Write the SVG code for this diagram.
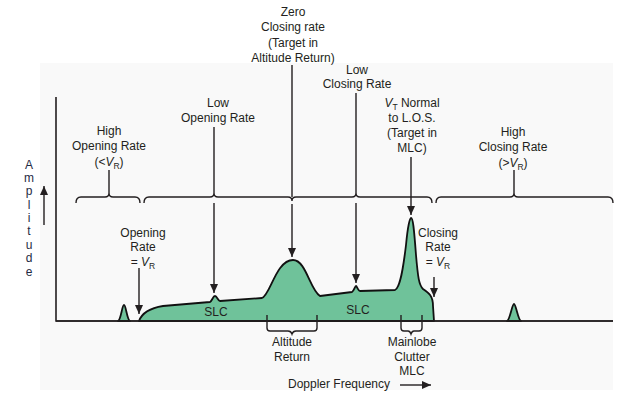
<svg xmlns="http://www.w3.org/2000/svg" width="629" height="400" viewBox="0 0 629 400">
<style>
text{font-family:"Liberation Sans",Arial,sans-serif;font-size:12px;fill:#231f20;text-anchor:middle}
.sub{font-size:8.5px}
.it{font-style:italic}
.ln{stroke:#231f20;stroke-width:1.4;fill:none}
.ax{stroke:#231f20;stroke-width:1.6;fill:none}
.ar{stroke:#231f20;stroke-width:1.4;fill:none;marker-end:url(#ah)}
.shape{fill:#6fc29a;stroke:#111;stroke-width:1.8;stroke-linejoin:round}
.amp{font-size:12px;fill:#1f2a44}
</style>
<defs>
<marker id="ah" markerUnits="userSpaceOnUse" markerWidth="10" markerHeight="10" viewBox="0 0 10 10" refX="9" refY="5" orient="auto">
<path d="M0,1 L9,5 L0,9 Z" fill="#231f20"/>
</marker>
</defs>
<rect x="40" y="63" width="573" height="327" fill="#f9f9f9"/>

<g id="axes">
<path class="ax" d="M56,97 L56,321 L613,321"/>
</g>

<g id="spectrum">
<path class="shape" d="M139,321 C142,313 150,308 163,306 L210,302 C212,301 213,296 215,296 C217,296 218,301 220,301 L262,298 C270,296 276,260 293,260 C306,260 310,290 320,296 L352,292 C354,291 355,286 356,286 C357,286 358,291 360,291 L395,290 C400,288 403,270 406,245 C408,224 410,218 411,218 C413,218 414,228 416,255 C418,278 419,285 423,289 C429,293 433,296 433,306 L434,321 Z"/>
<path class="shape" d="M118,321 C121,320 122,305 124,305 C126,305 127,320 130,321 Z"/>
<path class="shape" d="M507,321 C510,320 512,304 514,304 C516,304 518,320 521,321 Z"/>
<path class="ax" d="M56,321 L613,321"/>
</g>

<g id="connectors">
<path class="ln" d="M76,203 Q76,197 81,197 L105,197 Q109,197 109,193 Q109,197 113,197 L135,197 Q140,197 140,203"/>
<path class="ln" d="M144,203 Q144,197 149,197 L210,197 Q214,197 214,193 Q214,197 218,197 L288,197 Q292,197 292,201 Q292,197 296,197 L352,197 Q356,197 356,193 Q356,197 360,197 L427,197 Q432,197 432,203"/>
<path class="ln" d="M436,203 Q436,197 441,197 L510,197 Q514,197 514,193 Q514,197 518,197 L608,197 Q613,197 613,203"/>
<path class="ln" d="M109,170 L109,193"/>
<path class="ln" d="M214,127 L214,193"/>
<path class="ar" d="M214,203 L214,293"/>
<path class="ln" d="M292,65 L292,197"/>
<path class="ar" d="M292,204 L292,257"/>
<path class="ln" d="M356,93 L356,193"/>
<path class="ar" d="M356,203 L356,283"/>
<path class="ar" d="M411,157 L411,215"/>
<path class="ln" d="M514,170 L514,193"/>
<path class="ar" d="M139,268 L139,314"/>
<path class="ar" d="M434,277 L434,297"/>
<path class="ln" d="M267,315 L267,328 Q267,331 270,331 L288,331 Q291,331 292,334 Q293,331 296,331 L314,331 Q317,331 317,328 L317,315"/>
<path class="ln" d="M401,315 L401,328 Q401,331 404,331 L408,331 Q410,331 411,334 Q412,331 414,331 L419,331 Q422,331 422,328 L422,315"/>
<path class="ar" d="M44,225 L44,186"/>
<path class="ar" d="M400,385 L431,385"/>
</g>

<g id="label-amplitude">
<text class="amp" x="29" y="169">A</text>
<text class="amp" x="29" y="182">m</text>
<text class="amp" x="29" y="195">p</text>
<text class="amp" x="29" y="209">l</text>
<text class="amp" x="29" y="222">i</text>
<text class="amp" x="29" y="235">t</text>
<text class="amp" x="29" y="249">u</text>
<text class="amp" x="29" y="262">d</text>
<text class="amp" x="29" y="276">e</text>
</g>

<g id="label-high-opening">
<text x="109" y="135">High</text>
<text x="109" y="150">Opening Rate</text>
<text x="109" y="166">(&lt;<tspan class="it">V</tspan><tspan class="sub" dy="3">R</tspan><tspan dy="-3">)</tspan></text>
</g>

<g id="label-low-opening">
<text x="218" y="107">Low</text>
<text x="218" y="122">Opening Rate</text>
</g>

<g id="label-zero-closing">
<text x="293" y="16">Zero</text>
<text x="293" y="31">Closing rate</text>
<text x="293" y="47">(Target in</text>
<text x="293" y="62">Altitude Return)</text>
</g>

<g id="label-low-closing">
<text x="357" y="74">Low</text>
<text x="357" y="88">Closing Rate</text>
</g>

<g id="label-vt-normal">
<text x="412" y="107"><tspan class="it">V</tspan><tspan class="sub" dy="3">T</tspan><tspan dy="-3"> Normal</tspan></text>
<text x="412" y="122">to L.O.S.</text>
<text x="412" y="137">(Target in</text>
<text x="412" y="152">MLC)</text>
</g>

<g id="label-high-closing">
<text x="513" y="136">High</text>
<text x="513" y="151">Closing Rate</text>
<text x="513" y="167">(&gt;<tspan class="it">V</tspan><tspan class="sub" dy="3">R</tspan><tspan dy="-3">)</tspan></text>
</g>

<g id="label-opening-vr">
<text x="143" y="237">Opening</text>
<text x="143" y="251">Rate</text>
<text x="143" y="266">= <tspan class="it">V</tspan><tspan class="sub" dy="3">R</tspan></text>
</g>

<g id="label-closing-vr">
<text x="438" y="237">Closing</text>
<text x="438" y="251">Rate</text>
<text x="438" y="266">= <tspan class="it">V</tspan><tspan class="sub" dy="3">R</tspan></text>
</g>

<g id="label-slc">
<text x="216" y="316">SLC</text>
<text x="358" y="314">SLC</text>
</g>

<g id="label-altitude-return">
<text x="292" y="346">Altitude</text>
<text x="292" y="361">Return</text>
</g>

<g id="label-mlc">
<text x="412" y="346">Mainlobe</text>
<text x="412" y="361">Clutter</text>
<text x="412" y="375">MLC</text>
</g>

<g id="label-doppler">
<text x="339" y="388">Doppler Frequency</text>
</g>
</svg>
